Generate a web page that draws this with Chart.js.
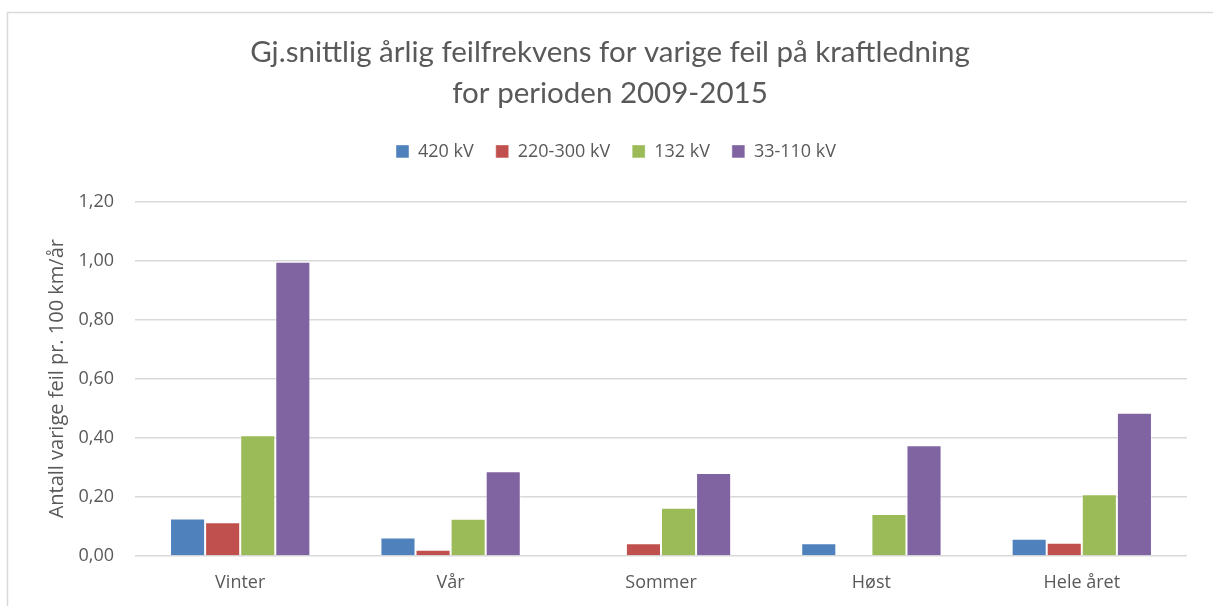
<!DOCTYPE html>
<html>
<head>
<meta charset="utf-8">
<script src="https://cdn.jsdelivr.net/npm/chart.js@4/dist/chart.umd.min.js"></script>
<style>
html,body{margin:0;padding:0;background:#fff;}
#wrap{width:1213px;height:606px;position:relative;}
</style>
</head>
<body>
<div id="wrap"><canvas id="c" width="1213" height="606"></canvas></div>
<script>
const categories = ["Vinter", "Vår", "Sommer", "Høst", "Hele året"];
const seriesNames = ["420 kV", "220-300 kV", "132 kV", "33-110 kV"];
const s420 = [0.127, 0.063, 0.000, 0.043, 0.058];
const s220_300 = [0.114, 0.021, 0.043, 0.000, 0.045];
const s132 = [0.409, 0.126, 0.163, 0.142, 0.209];
const s33_110 = [0.996, 0.287, 0.281, 0.375, 0.485];
const colors = ["#4F81BD", "#C0504D", "#9BBB59", "#8064A2"];
const titleLines = ["Gj.snittlig årlig feilfrekvens for varige feil på kraftledning", "for perioden 2009-2015"];
const yTitle = "Antall varige feil pr. 100 km/år";

const allSeries = [s420, s220_300, s132, s33_110];
const textColor = "#595959";
const fontFam = "'Open Sans', 'DejaVu Sans', sans-serif";

const framePlugin = {
  id: 'frame',
  beforeDraw(chart) {
    const ctx = chart.ctx;
    ctx.save();
    ctx.fillStyle = '#fff';
    ctx.fillRect(0, 0, chart.width, chart.height);
    ctx.strokeStyle = '#d9d9d9';
    ctx.lineWidth = 1.5;
    ctx.beginPath();
    ctx.moveTo(7.5, chart.height);
    ctx.lineTo(7.5, 12.5);
    ctx.lineTo(chart.width, 12.5);
    ctx.stroke();
    ctx.restore();
  },
  afterLayout(chart) {
    if (chart.titleBlock) chart.titleBlock.left = 33;
    if (chart.legend) chart.legend.left = 45;
  }
};
const legendSpace = {
  id: 'legendSpace',
  beforeInit(chart) {
    const origFit = chart.legend.fit;
    chart.legend.fit = function () {
      origFit.bind(chart.legend)();
      this.height += 31;
    };
  }
};

new Chart(document.getElementById('c'), {
  type: 'bar',
  data: {
    labels: categories,
    datasets: allSeries.map((d, i) => ({
      label: seriesNames[i],
      data: d,
      backgroundColor: colors[i],
      borderColor: 'rgba(255,255,255,0.45)',
      borderWidth: 1,
      categoryPercentage: 0.667,
      barPercentage: 1.0
    }))
  },
  options: {
    responsive: false,
    animation: false,
    devicePixelRatio: 1,
    layout: { padding: { left: 0, right: 26, top: 0, bottom: 0 } },
    plugins: {
      title: {
        display: true,
        text: titleLines,
        color: textColor,
        font: { family: "Lato, 'Open Sans', sans-serif", size: 29.5, weight: 'normal', lineHeight: 1.38 },
        padding: { top: 32, bottom: 7 }
      },
      legend: {
        display: true,
        position: 'top',
        labels: {
          color: textColor,
          font: { family: fontFam, size: 18 },
          boxWidth: 13,
          boxHeight: 13,
          padding: 22
        }
      },
      tooltip: { enabled: false }
    },
    scales: {
      x: {
        afterFit(scale) { scale.height = 50; },
        grid: { display: false, drawTicks: false },
        border: { display: false },
        ticks: { color: textColor, font: { family: fontFam, size: 18 }, padding: 16 }
      },
      y: {
        min: 0,
        max: 1.2,
        afterFit(scale) { scale.width = 135; },
        grid: { color: '#d9d9d9', lineWidth: 1.5, drawTicks: false },
        border: { display: false },
        ticks: {
          stepSize: 0.2,
          color: textColor,
          font: { family: fontFam, size: 18 },
          padding: 21,
          callback: v => v.toFixed(2).replace('.', ',')
        },
        title: {
          display: true,
          text: yTitle,
          color: textColor,
          font: { family: fontFam, size: 20 },
          padding: { top: 45, bottom: 0 }
        }
      }
    }
  },
  plugins: [framePlugin, legendSpace]
});
</script>
</body>
</html>
